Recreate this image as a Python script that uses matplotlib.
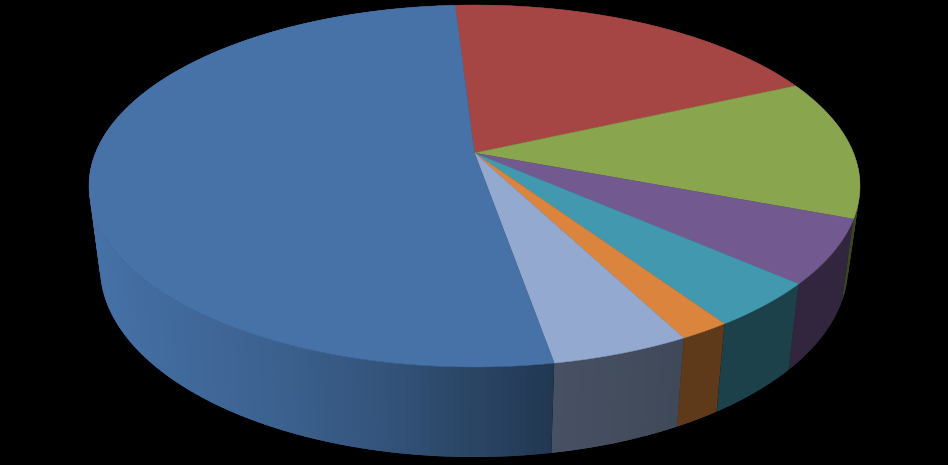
import numpy as np
import matplotlib
matplotlib.use('Agg')
import matplotlib.pyplot as plt

# pie shares in percent, clockwise from the first slice
names  = ['Red', 'Green', 'Purple', 'Teal', 'Orange', 'Light blue', 'Blue']
shares = [19.2, 12.5, 5.7, 4.1, 1.8, 4.9, 51.8]
colors = ['#A54644', '#89A54E', '#72598F', '#4298AF', '#DB843D', '#93A9CF', '#4672A8']

start_angle = -3.46
persp = 33.0 / 181.0   # how far the apex sits above the ellipse centre

# top and bottom ellipse of the disc, in pixels
top_c = (474.5, 186.0)
top_r = (385.5, 181.0)
bot_c = (474.0, 267.0)
bot_r = (374.0, 190.0)

# side brightness as a function of horizontal position on the disc
shade_x = [-1.0, -0.85, -0.5, -0.2, 0.2, 0.55, 1.0]
shade_f = [1.0, 0.95, 0.85, 0.72, 0.48, 0.43, 0.43]


def project(theta):
    # circle angle -> point on the unit disc seen in perspective
    u = np.sin(theta)
    v = np.cos(theta)
    s = np.sqrt(1 - persp ** 2)
    return u * s / (1 + persp * v), (v + persp) / (1 + persp * v)


def on_ellipse(x, y, c, r):
    return c[0] + x * r[0], c[1] - y * r[1]


fig = plt.figure(figsize=(9.48, 4.65), dpi=100, facecolor='black')
ax = fig.add_axes([0, 0, 1, 1])
ax.set_xlim(0, 948)
ax.set_ylim(465, 0)
ax.axis('off')

edges = start_angle + np.concatenate([[0], np.cumsum(shares)]) * 3.6

# sides first, back to front. strips overlap inside a slice so no seams show
strips = []
for i in range(len(shares)):
    a = np.arange(edges[i], edges[i + 1], 1.0)
    a = np.append(a, edges[i + 1])
    for a0, a1 in zip(a[:-1], a[1:]):
        strips.append((a0, a1, i))
strips.sort(key=lambda p: -np.cos(np.radians((p[0] + p[1]) / 2)))

for a0, a1, i in strips:
    f = np.interp(project(np.radians((a0 + a1) / 2))[0], shade_x, shade_f)
    rgb = np.array(matplotlib.colors.to_rgb(colors[i])) * f
    t = np.radians(np.linspace(max(a0 - 0.6, edges[i]), min(a1 + 0.6, edges[i + 1]), 4))
    x, y = project(t)
    xt, yt = on_ellipse(x, y, top_c, top_r)
    xb, yb = on_ellipse(x, y, bot_c, bot_r)
    ax.fill(np.r_[xt, xb[::-1]], np.r_[yt, yb[::-1]], facecolor=rgb, edgecolor='none', zorder=1)

# top of the pie
apex = on_ellipse(0.0, persp, top_c, top_r)
for i in range(len(shares)):
    t = np.radians(np.linspace(edges[i], edges[i + 1], 200))
    x, y = project(t)
    xt, yt = on_ellipse(x, y, top_c, top_r)
    ax.fill(np.r_[apex[0], xt], np.r_[apex[1], yt], color=colors[i], lw=0.3, zorder=2)

fig.savefig('out.png', dpi=100, facecolor='black')
